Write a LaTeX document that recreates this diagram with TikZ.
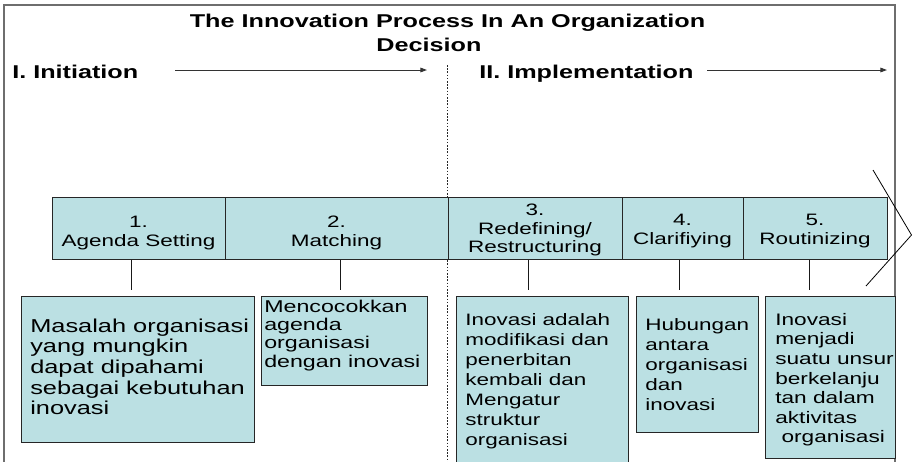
\documentclass[tikz,border=0pt]{standalone}
\usepackage{fontspec}
\setmainfont{Liberation Sans}[FakeStretch=1.36]
\usetikzlibrary{arrows.meta,fit,calc}
\definecolor{boxfill}{HTML}{BBE0E3}
\definecolor{framec}{HTML}{6E6E6E}
\newcommand\fsz[2]{\fontsize{#1}{#2}\selectfont}
\begin{document}
\begin{tikzpicture}[x=0.75pt,y=-0.75pt,
  stepbox/.style={draw=black!85, fill=boxfill, line width=0.75pt, inner sep=0pt},
  detbox/.style={draw=black!85, fill=boxfill, line width=0.75pt, inner sep=0pt},
  steptxt/.style={inner sep=0pt, anchor=north, align=center, font=\fsz{12.4}{14}},
  dettxt/.style={inner sep=0pt, anchor=north west, align=left},
  hdr/.style={inner sep=0pt, anchor=base west, font=\bfseries\fsz{13.9}{16}},
  ttl/.style={inner sep=0pt, anchor=base, font=\bfseries\fsz{13.9}{16}},
  flow/.style={draw=black!80, line width=0.75pt, -{Triangle[length=5pt,width=3.5pt]}},
  conn/.style={draw=black!90, line width=0.75pt, shorten >=4.5pt},
]
\clip (0,0) rectangle (912,461);
\fill[white] (0,0) rectangle (912,461);

% frame
\draw[framec, line width=0.9pt] (4,470) -- (4,5) -- (895,5) -- (895,470);

% title and phases
\node[ttl] (title) at (447.5,27) {The Innovation Process In An Organization};
\node[ttl] (decision) at (429,51) {Decision};
\node[hdr] (init) at (12,78) {I. Initiation};
\node[hdr] (impl) at (479,78) {II. Implementation};
\coordinate (a1s) at (175,70);
\coordinate (a1e) at (427,70);
\coordinate (a2s) at (707,70);
\coordinate (a2e) at (887,70);
\draw[flow] (a1s) -- (a1e);
\draw[flow] (a2s) -- (a2e);

% dotted divider
\coordinate (dvt) at (447.5,65);
\coordinate (dvb) at (447.5,470);
\draw[black!85, line width=0.6pt, dash pattern=on 1.2pt off 1.2pt] (dvt) -- (dvb);

% step boxes
\node[stepbox, fit={(52,197) (225,259)}] (s1) {};
\node[stepbox, fit={(225,197) (448,259)}] (s2) {};
\node[stepbox, fit={(448,197) (622,259)}] (s3) {};
\node[stepbox, fit={(622,197) (743,259)}] (s4) {};
\node[stepbox, fit={(743,197) (887,259)}] (s5) {};
\node[steptxt] (t1) at (138.5,214) {\strut 1.\\Agenda Setting};
\node[steptxt] (t2) at (336.5,214) {\strut 2.\\Matching};
\node[steptxt] (t3) at (535,202) {\strut 3.\\Redefining/\\Restructuring};
\node[steptxt] (t4) at (682.5,212) {\strut 4.\\Clarifiying};
\node[steptxt] (t5) at (815,212) {\strut 5.\\Routinizing};

% chevron
\draw[black, line width=0.6pt] (873,170) -- (911.5,235) -- (866,286);

% detail boxes
\node[detbox, fit={(21,296) (254,442)}] (d1) {};
\node[detbox, fit={(261,296) (427,385)}] (d2) {};
\node[detbox, fit={(456,296) (628,475)}] (d3) {};
\node[detbox, fit={(636,296) (758,432)}] (d4) {};
\node[detbox, fit={(765,296) (895,458)}] (d5) {};

\node[dettxt, font=\fsz{14}{15.45}] (e1) at (30,317.6)
  {\strut Masalah organisasi\\yang mungkin\\dapat dipahami\\sebagai kebutuhan\\inovasi};
\node[dettxt, font=\fsz{12.8}{13.7}] (e2) at (264,299.2)
  {\strut Mencocokkan\\agenda\\organisasi\\dengan inovasi};
\node[dettxt, font=\fsz{12.4}{15}] (e3) at (465,311)
  {\strut Inovasi adalah\\modifikasi dan\\penerbitan\\kembali dan\\Mengatur\\struktur\\organisasi};
\node[dettxt, font=\fsz{12.4}{15}] (e4) at (645,316)
  {\strut Hubungan\\antara\\organisasi\\dan\\inovasi};
\node[dettxt, font=\fsz{12.5}{14.7}] (e5) at (775,311.3)
  {\strut Inovasi\\menjadi\\suatu unsur\\berkelanju\\tan dalam\\aktivitas\\\hspace*{\fontdimen2\font}organisasi};

% connectors
\coordinate (x1) at (131,0);
\coordinate (x2) at (340,0);
\coordinate (x3) at (528,0);
\coordinate (x4) at (679,0);
\coordinate (x5) at (809,0);
\draw[conn] (s1.south -| x1) -- (d1.north -| x1);
\draw[conn] (s2.south -| x2) -- (d2.north -| x2);
\draw[conn] (s3.south -| x3) -- (d3.north -| x3);
\draw[conn] (s4.south -| x4) -- (d4.north -| x4);
\draw[conn] (s5.south -| x5) -- (d5.north -| x5);
\end{tikzpicture}
\end{document}
